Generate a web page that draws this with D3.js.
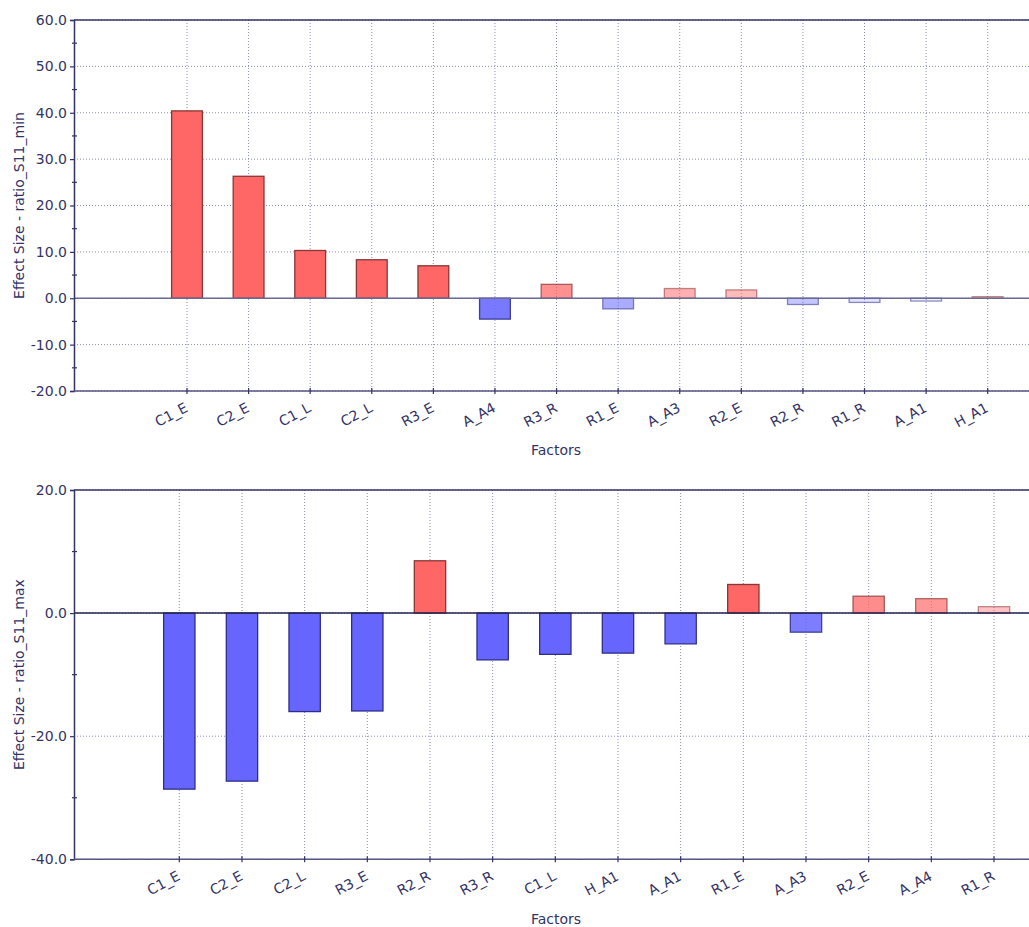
<!DOCTYPE html>
<html>
<head>
<meta charset="utf-8">
<script src="https://cdn.jsdelivr.net/npm/d3@7/dist/d3.min.js"></script>
<style>
  html, body { margin: 0; padding: 0; background: #fff; }
  svg { display: block; }
  text { font-family: "DejaVu Sans", sans-serif; fill: #333366; }
</style>
</head>
<body>
<svg id="chart" width="1029" height="927"></svg>
<script>
// ---- data ----
const topCategories = ["C1_E","C2_E","C1_L","C2_L","R3_E","A_A4","R3_R","R1_E","A_A3","R2_E","R2_R","R1_R","A_A1","H_A1"];
const topValues = [40.4, 26.3, 10.3, 8.3, 7.0, -4.5, 3.0, -2.3, 2.1, 1.8, -1.35, -0.9, -0.6, 0.35];
const topSignificance = [1, 1, 1, 1, 1, 0.88, 0.72, 0.55, 0.52, 0.45, 0.38, 0.18, 0.08, 0.3];
const topMajorTicks = [-20, -10, 0, 10, 20, 30, 40, 50, 60];
const topMinorTicks = [-15, -5, 5, 15, 25, 35, 45, 55];
const topYLabel = "Effect Size - ratio_S11_min";

const bottomCategories = ["C1_E","C2_E","C2_L","R3_E","R2_R","R3_R","C1_L","H_A1","A_A1","R1_E","A_A3","R2_E","A_A4","R1_R"];
const bottomValues = [-28.6, -27.3, -16.0, -15.9, 8.5, -7.6, -6.7, -6.5, -5.0, 4.65, -3.1, 2.75, 2.35, 1.05];
const bottomSignificance = [1, 1, 1, 1, 1, 1, 1, 1, 0.95, 1, 0.85, 0.75, 0.68, 0.4];
const bottomMajorTicks = [-40, -20, 0, 20];
const bottomMinorTicks = [-30, -10, 10];
const bottomYLabel = "Effect Size - ratio_S11_max";

const xAxisLabel = "Factors";

// ---- drawing ----
const svg = d3.select("#chart");
const axisColor = "#333366";
const gridColor = "#8a8abf";

function drawChart(cfg) {
  const g = svg.append("g");
  const y = d3.scaleLinear().domain(cfg.yDomain).range([cfg.bottom, cfg.top]);
  const x = d3.scalePoint().domain(cfg.categories).range([cfg.xFirst, cfg.xLast]);
  const bw = x.step() * 0.5;
  const op = d3.scaleLinear().domain([0, 1]).range([0, 1]).clamp(true);

  // horizontal grid
  g.append("g").selectAll("line").data(cfg.major).join("line")
    .attr("x1", cfg.left).attr("x2", cfg.right)
    .attr("y1", d => y(d)).attr("y2", d => y(d))
    .attr("stroke", gridColor).attr("stroke-width", 1).attr("stroke-dasharray", "1,2");

  // vertical grid
  g.append("g").selectAll("line").data(cfg.categories).join("line")
    .attr("x1", d => x(d)).attr("x2", d => x(d))
    .attr("y1", cfg.top).attr("y2", cfg.bottom)
    .attr("stroke", gridColor).attr("stroke-width", 1).attr("stroke-dasharray", "1,2");

  // bars
  const data = cfg.categories.map((c, i) => ({ c, v: cfg.values[i], s: cfg.sig[i] }));
  g.append("g").selectAll("rect").data(data).join("rect")
    .attr("x", d => x(d.c) - bw / 2)
    .attr("width", bw)
    .attr("y", d => Math.min(y(d.v), y(0)))
    .attr("height", d => Math.abs(y(d.v) - y(0)))
    .attr("fill", d => d.v >= 0 ? "#ff6666" : "#6666ff")
    .attr("fill-opacity", d => op(d.s))
    .attr("stroke", d => d.v >= 0 ? "#8a3636" : "#2e2e8a")
    .attr("stroke-opacity", d => Math.max(0.55, op(d.s)))
    .attr("stroke-width", 1.3);

  // zero line
  g.append("line")
    .attr("x1", cfg.left).attr("x2", cfg.right)
    .attr("y1", y(0)).attr("y2", y(0))
    .attr("stroke", cfg.zeroColor).attr("stroke-width", 1.5);

  // top border
  g.append("line")
    .attr("x1", cfg.left).attr("x2", cfg.right)
    .attr("y1", cfg.top).attr("y2", cfg.top)
    .attr("stroke", axisColor).attr("stroke-width", 1.5);

  // left axis
  const yAxis = d3.axisLeft(y).tickValues(cfg.major).tickSize(4).tickPadding(3)
    .tickFormat(d => d.toFixed(1));
  const ya = g.append("g").attr("transform", `translate(${cfg.left},0)`).call(yAxis);
  ya.select(".domain").attr("stroke", axisColor).attr("stroke-width", 1.5);
  ya.selectAll(".tick line").attr("stroke", axisColor).attr("stroke-width", 1.2);
  ya.selectAll(".tick text").attr("font-size", 14).attr("fill", "#333366")
    .style("font-family", '"DejaVu Sans", sans-serif');
  // minor ticks
  g.append("g").selectAll("line").data(cfg.minor).join("line")
    .attr("x1", cfg.left - 2).attr("x2", cfg.left + 3)
    .attr("y1", d => y(d)).attr("y2", d => y(d))
    .attr("stroke", axisColor).attr("stroke-width", 1.2);

  // bottom axis
  const axisY = cfg.bottom;
  g.append("line")
    .attr("x1", cfg.left).attr("x2", cfg.right)
    .attr("y1", axisY).attr("y2", axisY)
    .attr("stroke", "#555585").attr("stroke-width", 1.6);
  g.append("g").selectAll("line").data(cfg.categories).join("line")
    .attr("x1", d => x(d)).attr("x2", d => x(d))
    .attr("y1", axisY - 3).attr("y2", axisY + 3)
    .attr("stroke", axisColor).attr("stroke-width", 1.2);
  g.append("g").selectAll("text").data(cfg.categories).join("text")
    .attr("transform", d => `translate(${x(d) - 3},${axisY + 11}) rotate(-28)`)
    .attr("text-anchor", "end")
    .attr("dy", "0.72em")
    .attr("font-size", 14)
    .text(d => d);

  // axis titles
  g.append("text")
    .attr("transform", `translate(19,${(cfg.top + cfg.bottom) / 2}) rotate(-90)`)
    .attr("text-anchor", "middle")
    .attr("dominant-baseline", "central")
    .attr("font-size", 14)
    .text(cfg.yLabel);
  g.append("text")
    .attr("x", 556).attr("y", cfg.xLabelY)
    .attr("text-anchor", "middle")
    .attr("font-size", 14)
    .text(xAxisLabel);
}

drawChart({
  categories: topCategories, values: topValues, sig: topSignificance,
  major: topMajorTicks, minor: topMinorTicks, yLabel: topYLabel,
  yDomain: [-20, 60], left: 74, right: 1029, top: 20, bottom: 391,
  xFirst: 187, xLast: 987.7, xLabelY: 455, zeroColor: "#6a6a98"
});
drawChart({
  categories: bottomCategories, values: bottomValues, sig: bottomSignificance,
  major: bottomMajorTicks, minor: bottomMinorTicks, yLabel: bottomYLabel,
  yDomain: [-40, 20], left: 74, right: 1029, top: 490, bottom: 859.3,
  xFirst: 179.3, xLast: 994, xLabelY: 924, zeroColor: "#22224f"
});
</script>
</body>
</html>
